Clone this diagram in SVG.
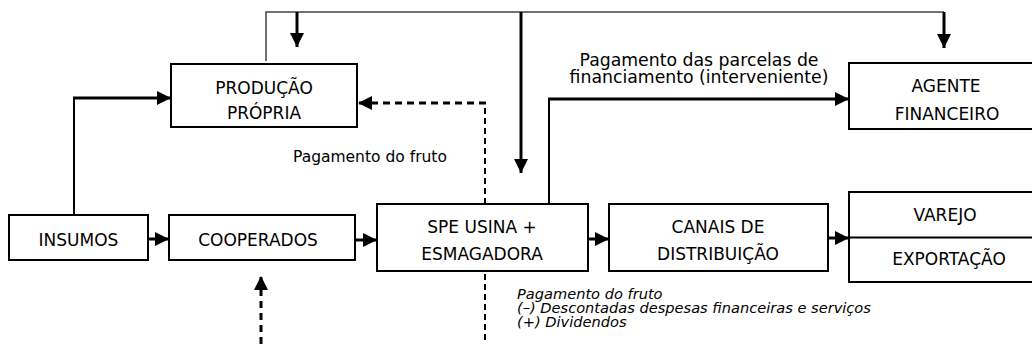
<svg xmlns="http://www.w3.org/2000/svg" width="1032" height="344" viewBox="0 0 1032 344">
<style>
  .box { fill: #fff; stroke: #000; stroke-width: 2; }
  .t { font-family: "DejaVu Sans", "Noto Sans", sans-serif; font-size: 17px; fill: #000; text-anchor: middle; }
  .lbl { font-family: "DejaVu Sans", "Noto Sans", sans-serif; font-size: 15.5px; fill: #000; }
  .lbl2 { font-family: "DejaVu Sans", "Noto Sans", sans-serif; font-size: 17.3px; fill: #000; text-anchor: middle; }
  .it { font-family: "DejaVu Sans", "Noto Sans", sans-serif; font-size: 14.6px; font-style: italic; fill: #000; }
  .thin { fill: none; stroke: #000; stroke-width: 2; }
  .gray { fill: none; stroke: #444; stroke-width: 1.5; }
  .thick { fill: none; stroke: #000; stroke-width: 3; }
  .dash { fill: none; stroke: #000; stroke-width: 3; stroke-dasharray: 7 5; }
  .dashv { fill: none; stroke: #000; stroke-width: 2; stroke-dasharray: 6 4; }
</style>
<defs>
  <marker id="ah" viewBox="0 0 14 14" markerWidth="14" markerHeight="14" refX="14" refY="7" orient="auto" markerUnits="userSpaceOnUse">
    <path d="M0,0 L14,7 L0,14 z" fill="#000"/>
  </marker>
</defs>
<g id="connectors">
  <path class="gray" d="M266,61 V12 H944"/>
  <path class="thick" d="M297,12 V47" marker-end="url(#ah)"/>
  <path class="thick" d="M521,12 V173" marker-end="url(#ah)"/>
  <path class="thick" d="M944,12 V48" marker-end="url(#ah)"/>
  <path class="thin" d="M74,215 V98"/>
  <path class="thick" d="M73,98 H171" marker-end="url(#ah)"/>
  <path class="dashv" d="M485,204 V103"/>
  <path class="dash" d="M486,103 H358" marker-end="url(#ah)"/>
  <path class="dashv" d="M485,274 V344"/>
  <path class="dash" d="M261,344 V276" marker-end="url(#ah)"/>
  <path class="thin" d="M549,204 V99"/>
  <path class="thick" d="M548,99 H849" marker-end="url(#ah)"/>
  <path class="thick" d="M148,239 H169" marker-end="url(#ah)"/>
  <path class="thick" d="M355,240 H377" marker-end="url(#ah)"/>
  <path class="thick" d="M588,239 H609" marker-end="url(#ah)"/>
  <path class="thick" d="M828,238 H849" marker-end="url(#ah)"/>
</g>
<g id="producao">
  <rect class="box" x="171" y="64" width="186" height="63"/>
  <text class="t" x="264" y="94">PRODUÇÃO</text>
  <text class="t" x="264" y="119">PRÓPRIA</text>
</g>
<g id="agente">
  <rect class="box" x="849" y="63" width="200" height="66"/>
  <text class="t" x="946" y="92">AGENTE</text>
  <text class="t" x="947" y="120">FINANCEIRO</text>
</g>
<g id="insumos">
  <rect class="box" x="9" y="215" width="139" height="45"/>
  <text class="t" x="78.5" y="246">INSUMOS</text>
</g>
<g id="cooperados">
  <rect class="box" x="169" y="215" width="186" height="45"/>
  <text class="t" x="258" y="246">COOPERADOS</text>
</g>
<g id="spe">
  <rect class="box" x="377" y="204" width="211" height="67"/>
  <text class="t" x="482" y="233">SPE USINA +</text>
  <text class="t" x="482" y="260">ESMAGADORA</text>
</g>
<g id="canais">
  <rect class="box" x="609" y="204" width="219" height="67"/>
  <text class="t" x="718" y="233">CANAIS DE</text>
  <text class="t" x="718" y="260">DISTRIBUIÇÃO</text>
</g>
<g id="varejo-exportacao">
  <rect class="box" x="849" y="192" width="200" height="90"/>
  <line x1="849" y1="237.5" x2="1049" y2="237.5" stroke="#000" stroke-width="2"/>
  <text class="t" x="945" y="221">VAREJO</text>
  <text class="t" x="949" y="265">EXPORTAÇÃO</text>
</g>
<g id="labels">
  <text class="lbl" x="293" y="162">Pagamento do fruto</text>
  <text class="lbl2" x="699" y="66">Pagamento das parcelas de</text>
  <text class="lbl2" x="699" y="83">financiamento (interveniente)</text>
  <text class="it" x="517" y="299">Pagamento do fruto</text>
  <text class="it" x="517" y="313">(–) Descontadas despesas financeiras e serviços</text>
  <text class="it" x="517" y="327">(+) Dividendos</text>
</g>
</svg>
